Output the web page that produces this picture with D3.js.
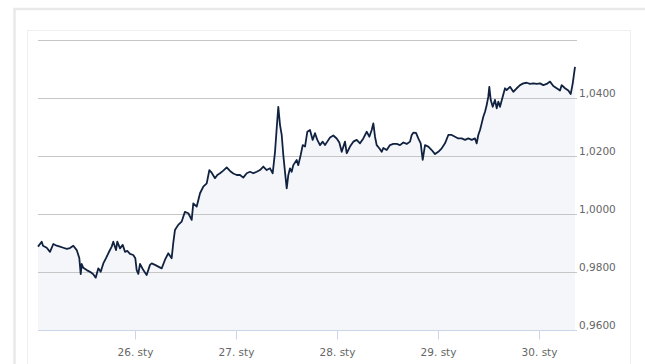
<!DOCTYPE html>
<html>
<head>
<meta charset="utf-8">
<script src="https://cdn.jsdelivr.net/npm/d3@7"></script>
<style>
    body { margin: 0; background: #ffffff; }
    svg { display: block; }
    text { font-family: "DejaVu Sans", sans-serif; font-size: 10.5px; fill: #666666; }
</style>
</head>
<body>
<svg id="chart" width="645" height="364"></svg>
<script>
// hours since 25 Jan, 00:00
const hours = [
    0.95, 1.83, 2.14, 3.02, 3.80, 4.59, 5.39, 6.18, 6.96, 7.77,
    8.55, 9.34, 10.15, 10.76, 11.10, 11.33, 11.71, 12.52, 13.31, 14.09,
    14.66, 15.28, 15.85, 16.47, 17.11, 17.66, 18.46, 18.84, 19.49, 19.79,
    20.44, 21.08, 21.62, 22.17, 22.81, 23.59, 24.07, 24.40, 24.78, 25.19,
    25.97, 26.77, 27.56, 27.96, 28.75, 29.53, 30.34, 31.11, 31.90, 32.71,
    33.08, 33.49, 34.27, 35.08, 35.86, 36.67, 37.47, 37.85, 38.66, 39.45,
    40.23, 41.04, 41.66, 42.22, 43.01, 43.56, 44.20, 44.98, 45.79, 46.57,
    47.36, 48.17, 48.95, 49.73, 50.54, 51.33, 52.11, 52.92, 53.70, 54.49,
    55.29, 56.08, 56.72, 57.27, 57.67, 58.05, 58.46, 58.86, 59.24, 59.64,
    60.05, 60.43, 60.83, 61.23, 61.61, 62.42, 62.80, 63.37, 63.85, 64.40,
    64.94, 65.58, 66.22, 66.77, 67.32, 67.96, 68.60, 69.15, 69.69, 70.34,
    71.12, 71.93, 72.55, 73.12, 73.90, 74.30, 75.09, 75.87, 76.68, 77.47,
    78.25, 79.06, 79.68, 80.24, 80.63, 81.03, 81.43, 82.05, 82.62, 83.00,
    83.81, 84.59, 85.38, 86.19, 86.97, 87.76, 88.56, 89.35, 89.75, 90.13,
    90.77, 91.32, 91.89, 92.36, 92.91, 93.70, 94.50, 95.29, 96.07, 96.88,
    97.66, 98.45, 99.25, 100.04, 100.82, 101.63, 102.42, 103.20, 104.01, 104.79,
    105.19, 105.57, 105.98, 106.38, 106.76, 107.17, 107.57, 107.95, 108.19, 108.52,
    109.00, 109.54, 109.95, 110.33, 110.73, 111.37, 111.92, 112.32, 113.11, 113.89,
    114.70, 115.49, 116.27, 117.08, 117.86, 118.65, 119.45, 120.24, 121.02, 121.83,
    122.61, 123.40, 124.20, 124.99, 125.39, 126.18, 126.96, 127.53, 128.01, 128.55
];

const rates = [
    0.9891, 0.9908, 0.9894, 0.9887, 0.9873, 0.9900, 0.9894, 0.9891, 0.9887, 0.9883,
    0.9886, 0.9894, 0.9879, 0.9852, 0.9796, 0.9831, 0.9818, 0.9810, 0.9804, 0.9796,
    0.9784, 0.9816, 0.9804, 0.9833, 0.9851, 0.9868, 0.9891, 0.9908, 0.9879, 0.9908,
    0.9885, 0.9897, 0.9873, 0.9876, 0.9866, 0.9862, 0.9851, 0.9810, 0.9797, 0.9831,
    0.9810, 0.9793, 0.9828, 0.9833, 0.9828, 0.9822, 0.9816, 0.9845, 0.9868, 0.9851,
    0.9902, 0.9948, 0.9966, 0.9977, 1.0011, 1.0006, 0.9983, 1.0040, 1.0029, 1.0075,
    1.0098, 1.0109, 1.0155, 1.0146, 1.0127, 1.0138, 1.0144, 1.0153, 1.0164, 1.0152,
    1.0143, 1.0138, 1.0138, 1.0129, 1.0144, 1.0149, 1.0144, 1.0149, 1.0155, 1.0167,
    1.0155, 1.0161, 1.0144, 1.0218, 1.0299, 1.0373, 1.0310, 1.0276, 1.0207, 1.0149,
    1.0092, 1.0138, 1.0161, 1.0149, 1.0172, 1.0190, 1.0172, 1.0207, 1.0241, 1.0236,
    1.0287, 1.0293, 1.0259, 1.0282, 1.0259, 1.0241, 1.0253, 1.0241, 1.0253, 1.0267,
    1.0274, 1.0264, 1.0250, 1.0218, 1.0253, 1.0213, 1.0236, 1.0253, 1.0259, 1.0247,
    1.0264, 1.0287, 1.0270, 1.0293, 1.0316, 1.0270, 1.0241, 1.0230, 1.0218, 1.0231,
    1.0224, 1.0241, 1.0245, 1.0245, 1.0241, 1.0250, 1.0245, 1.0253, 1.0276, 1.0284,
    1.0283, 1.0264, 1.0247, 1.0190, 1.0241, 1.0236, 1.0224, 1.0210, 1.0218, 1.0230,
    1.0247, 1.0276, 1.0276, 1.0270, 1.0264, 1.0264, 1.0259, 1.0264, 1.0259, 1.0264,
    1.0247, 1.0276, 1.0293, 1.0316, 1.0339, 1.0356, 1.0379, 1.0408, 1.0442, 1.0397,
    1.0373, 1.0397, 1.0368, 1.0391, 1.0373, 1.0408, 1.0437, 1.0431, 1.0442, 1.0425,
    1.0437, 1.0448, 1.0454, 1.0456, 1.0452, 1.0454, 1.0452, 1.0454, 1.0448, 1.0452,
    1.0460, 1.0445, 1.0437, 1.0429, 1.0448, 1.0437, 1.0429, 1.0417, 1.0454, 1.0511
];

const yTicks = [0.96, 0.98, 1.00, 1.02, 1.04, 1.06];
const xTickDays = [26, 27, 28, 29, 30];
const monthLabel = "sty";

var lineColor = "#112240";
var areaColor = "#f4f6f9";
var gridColor = "#c6c6c6";
var axisColor = "#ccd6eb";

drawChart = function() {
    const svg = d3.select("svg#chart");

    // page frames
    svg.append("rect")
        .attr("x", 14.5).attr("y", 9)
        .attr("width", 700).attr("height", 400)
        .attr("fill", "none")
        .attr("stroke", "#e9e9e9")
        .attr("stroke-width", 2.5);
    svg.append("rect")
        .attr("x", 27.5).attr("y", 30.5)
        .attr("width", 603).attr("height", 400)
        .attr("fill", "#ffffff")
        .attr("stroke", "#efefef")
        .attr("stroke-width", 1);

    let plot = { left: 38, right: 577, top: 41, bottom: 331 };

    let start = new Date(2016, 0, 25, 0, 0);
    let data = hours.map((h, i) => ({
        date: new Date(start.getTime() + h * 3600 * 1000),
        value: rates[i]
    }));

    let xScale = d3.scaleTime()
        .domain(d3.extent(data, d => d.date))
        .range([plot.left, 575]);

    let yScale = d3.scaleLinear()
        .domain([yTicks[0], yTicks[yTicks.length - 1]])
        .range([plot.bottom, plot.top]);

    // area under the line
    let area = d3.area()
        .x(d => xScale(d.date))
        .y0(plot.bottom)
        .y1(d => yScale(d.value));

    svg.append("path")
        .attr("d", area(data))
        .attr("fill", areaColor);

    // grid lines
    svg.append("g")
        .selectAll("line")
        .data(yTicks.slice(1))
        .enter()
        .append("line")
        .attr("x1", plot.left)
        .attr("x2", plot.right)
        .attr("y1", d => Math.round(yScale(d)) - 0.5)
        .attr("y2", d => Math.round(yScale(d)) - 0.5)
        .attr("stroke", gridColor)
        .attr("stroke-width", 1);

    // y labels on the right, no label on the top line
    svg.append("g")
        .selectAll("text")
        .data(yTicks.slice(0, -1))
        .enter()
        .append("text")
        .attr("x", 579)
        .attr("y", d => yScale(d) - 2)
        .text(d => d3.format(".4f")(d).replace(".", ","));

    // x axis
    let tickDates = xTickDays.map(day => new Date(2016, 0, day));
    let xAxis = d3.axisBottom(xScale)
        .tickValues(tickDates)
        .tickSize(9)
        .tickPadding(9)
        .tickFormat(d => d.getDate() + ". " + monthLabel);

    let gx = svg.append("g")
        .attr("transform", "translate(0," + (plot.bottom - 0.5) + ")")
        .call(xAxis);
    gx.select(".domain").remove();
    gx.selectAll(".tick line").attr("stroke", axisColor);
    gx.selectAll(".tick text")
        .attr("fill", "#666666")
        .style("font-family", "DejaVu Sans, sans-serif")
        .style("font-size", "10.5px");
    svg.append("line")
        .attr("x1", plot.left)
        .attr("x2", plot.right)
        .attr("y1", plot.bottom - 0.5)
        .attr("y2", plot.bottom - 0.5)
        .attr("stroke", axisColor)
        .attr("stroke-width", 1);

    // the rate line
    let line = d3.line()
        .x(d => xScale(d.date))
        .y(d => yScale(d.value));

    svg.append("path")
        .attr("d", line(data))
        .attr("fill", "none")
        .attr("stroke", lineColor)
        .attr("stroke-width", 1.8)
        .attr("stroke-linejoin", "round");
}

drawChart();
</script>
</body>
</html>
